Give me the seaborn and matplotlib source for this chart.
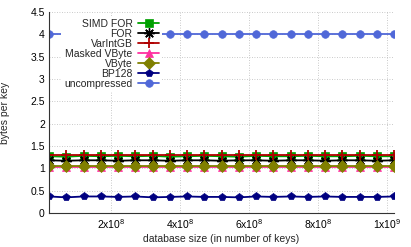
import numpy as np
import pandas as pd
import seaborn as sns
import matplotlib
matplotlib.use("Agg")
import matplotlib.pyplot as plt
from matplotlib.markers import MarkerStyle

# database sizes (number of keys)
db_size = [2e7, 7e7, 1.2e8, 1.7e8, 2.2e8, 2.7e8, 3.2e8, 3.7e8, 4.2e8, 4.7e8, 5.2e8,
           5.7e8, 6.2e8, 6.7e8, 7.2e8, 7.7e8, 8.2e8, 8.7e8, 9.2e8, 9.7e8, 1.02e9]

simd_for = [1.27, 1.26, 1.28, 1.27, 1.28, 1.27, 1.28, 1.26, 1.27, 1.28, 1.27,
            1.26, 1.28, 1.27, 1.27, 1.28, 1.27, 1.27, 1.28, 1.27, 1.27]
for_ = [1.18, 1.17, 1.18, 1.18, 1.17, 1.18, 1.18, 1.17, 1.18, 1.18, 1.17,
        1.18, 1.18, 1.17, 1.18, 1.18, 1.17, 1.18, 1.18, 1.17, 1.18]
varintgb = [1.30] * 21
masked_vbyte = [1.04] * 21
vbyte = [1.05] * 21
bp128 = [0.37, 0.35, 0.37, 0.37, 0.36, 0.37, 0.35, 0.36, 0.37, 0.36, 0.36,
         0.35, 0.37, 0.36, 0.37, 0.36, 0.37, 0.36, 0.36, 0.36, 0.37]
uncompressed = [4.0] * 21

series = [
    ("SIMD FOR", simd_for, "#00a000", "s"),
    ("FOR", for_, "black", "asterisk"),
    ("VarIntGB", varintgb, "#b00000", "+"),
    ("Masked VByte", masked_vbyte, "#ff30a0", "^"),
    ("VByte", vbyte, "#808000", "D"),
    ("BP128", bp128, "#000080", "p"),
    ("uncompressed", uncompressed, "#5068d8", "o"),
]

sns.set_style("white")
plt.rcParams["font.family"] = ["Liberation Sans", "DejaVu Sans"]
plt.rcParams["mathtext.fontset"] = "custom"
plt.rcParams["mathtext.rm"] = "Liberation Sans"
plt.rcParams["mathtext.default"] = "regular"

fig = plt.figure(figsize=(4.11, 2.47), dpi=100)
ax = fig.add_axes([49 / 411, 1 - 213 / 247, 345 / 411, 201 / 247])

for name, vals, col, mk in series:
    df = pd.DataFrame({"size": db_size, "bpk": vals})
    ms, mew = 5.5, 0.5
    if mk == "+":
        ms, mew = 7, 1.3
    elif mk == "asterisk":
        mk = MarkerStyle((8, 2, 0))
        ms, mew = 7.5, 1.0
    elif mk in ("^", "D"):
        ms = 6
    sns.lineplot(data=df, x="size", y="bpk", ax=ax, color=col, marker=mk,
                 markersize=ms, markeredgecolor=col, markeredgewidth=mew,
                 linewidth=1.3, label=name)

ax.set_xlim(2e7, 1.02e9)
ax.set_ylim(0, 4.5)
ax.set_yticks(np.arange(0, 4.51, 0.5))
ax.set_yticklabels(["0", "0.5", "1", "1.5", "2", "2.5", "3", "3.5", "4", "4.5"])
ax.set_xticks([2e8, 4e8, 6e8, 8e8, 1e9])
ax.set_xticklabels([r"2x10$^{8}$", r"4x10$^{8}$", r"6x10$^{8}$", r"8x10$^{8}$", r"1x10$^{9}$"])
ax.tick_params(axis="both", direction="in", length=3, width=0.8, labelsize=7.5, pad=3, colors="#333333")
ax.tick_params(labelcolor="black")
ax.grid(True, linestyle=(0, (1, 2)), color="#b8b8b8", linewidth=0.6)
for s in ("top", "right"):
    ax.spines[s].set_visible(False)
for s in ("left", "bottom"):
    ax.spines[s].set_color("#333333")
    ax.spines[s].set_linewidth(0.8)

ax.set_xlabel("database size (in number of keys)", fontsize=7.5, labelpad=2.5)
ax.set_ylabel("bytes per key", fontsize=7.5)
ax.yaxis.set_label_coords(-0.112, 0.5)

leg = ax.legend(loc="upper left", bbox_to_anchor=(61 / 411, 1 - 16 / 247),
                bbox_transform=fig.transFigure, markerfirst=False, frameon=True,
                fontsize=7.5, handlelength=2.0, handletextpad=0.55, labelspacing=0.0,
                borderpad=0.3, borderaxespad=0)
leg.get_frame().set_facecolor("white")
leg.get_frame().set_edgecolor("none")
leg.get_frame().set_alpha(1)
for col in leg._legend_handle_box.get_children():
    col.align = "right"

fig.savefig("out.png", dpi=100)
